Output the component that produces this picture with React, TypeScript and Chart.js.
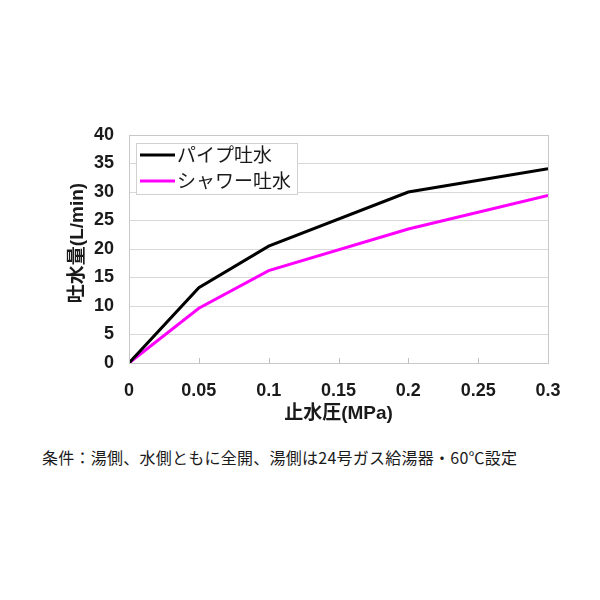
import React, { useEffect, useRef } from "react";
import { Chart, registerables } from "chart.js";

Chart.register(...registerables);

const pressures = [0, 0.05, 0.1, 0.2, 0.3];
const pipeFlow = [0, 13.2, 20.5, 30.0, 34.1];
const showerFlow = [0, 9.6, 16.2, 23.5, 29.4];
const xTickValues = [0, 0.05, 0.1, 0.15, 0.2, 0.25, 0.3];
const yTickValues = [0, 5, 10, 15, 20, 25, 30, 35, 40];
const seriesLabels = ["パイプ吐水", "シャワー吐水"];
const xTitle = "止水圧(MPa)";
const yTitle = "吐水量(L/min)";
const caption = "条件：湯側、水側ともに全開、湯側は24号ガス給湯器・60℃設定";

const JP = '"Noto Sans CJK JP", "Noto Sans", sans-serif';
const NUM = '"Liberation Sans", Arial, sans-serif';
const MIX = '"Liberation Sans", Arial, "Noto Sans CJK JP", sans-serif';

const framePlugin = {
  id: "frame",
  afterDatasetsDraw(chart: any) {
    const { ctx, chartArea } = chart;
    const { left, top, right, bottom } = chartArea;
    const xs = chart.scales.x;
    ctx.save();
    ctx.strokeStyle = "#bfbfbf";
    ctx.lineWidth = 1;
    xTickValues.forEach((v) => {
      const px = Math.round(xs.getPixelForValue(v)) + 0.5;
      ctx.beginPath();
      ctx.moveTo(px, bottom);
      ctx.lineTo(px, bottom - 5);
      ctx.stroke();
    });
    ctx.strokeStyle = "#c8c8c8";
    ctx.strokeRect(Math.round(left) + 0.5, Math.round(top) + 0.5, Math.round(right - left), Math.round(bottom - top));
    // legend
    const bx = left + 7;
    const by = top + 8;
    const bw = 161;
    const bh = 51;
    ctx.fillStyle = "#ffffff";
    ctx.fillRect(bx, by, bw, bh);
    ctx.strokeStyle = "#d0d0d0";
    ctx.strokeRect(Math.round(bx) + 0.5, Math.round(by) + 0.5, bw, bh);
    chart.data.datasets.forEach((ds: any, i: number) => {
      const cy = by + 12 + i * 26;
      ctx.strokeStyle = ds.borderColor;
      ctx.lineWidth = 3;
      ctx.beginPath();
      ctx.moveTo(bx + 4, cy);
      ctx.lineTo(bx + 39, cy);
      ctx.stroke();
      ctx.fillStyle = "#1a1a1a";
      ctx.font = `19px ${JP}`;
      ctx.textBaseline = "middle";
      ctx.textAlign = "left";
      ctx.fillText(ds.label, bx + 41, cy);
    });
    // y axis title
    ctx.translate(78, (top + bottom) / 2 - 6);
    ctx.rotate(-Math.PI / 2);
    ctx.fillStyle = "#1a1a1a";
    ctx.font = `bold 19px ${MIX}`;
    ctx.textAlign = "center";
    ctx.textBaseline = "middle";
    ctx.fillText(yTitle, 0, 0);
    ctx.restore();
  },
};

export default function App() {
  const canvasRef = useRef<HTMLCanvasElement | null>(null);

  useEffect(() => {
    const canvas = canvasRef.current;
    if (!canvas) return;
    const chart = new Chart(canvas, {
      type: "line",
      data: {
        datasets: [
          {
            label: seriesLabels[0],
            data: pressures.map((x, i) => ({ x, y: pipeFlow[i] })),
            borderColor: "#000000",
            backgroundColor: "#000000",
            borderWidth: 3,
            pointRadius: 0,
            tension: 0,
          },
          {
            label: seriesLabels[1],
            data: pressures.map((x, i) => ({ x, y: showerFlow[i] })),
            borderColor: "#ff00ff",
            backgroundColor: "#ff00ff",
            borderWidth: 3,
            pointRadius: 0,
            tension: 0,
          },
        ],
      },
      options: {
        animation: false,
        responsive: false,
        maintainAspectRatio: false,
        layout: { padding: { left: 0, top: 135, right: 52, bottom: 0 } },
        plugins: {
          legend: { display: false },
          tooltip: { enabled: false },
        },
        scales: {
          x: {
            type: "linear",
            min: 0,
            max: 0.3,
            afterBuildTicks: (scale: any) => {
              scale.ticks = xTickValues.map((value) => ({ value }));
            },
            afterFit: (scale: any) => {
              scale.height = 67;
            },
            grid: { display: false },
            border: { display: false },
            ticks: {
              padding: 9,
              color: "#1a1a1a",
              font: { family: NUM, size: 18, weight: "bold" },
              callback: (v: any) => String(Number(v.toFixed(2))),
            },
            title: {
              display: true,
              text: xTitle,
              color: "#1a1a1a",
              font: { family: MIX, size: 19, weight: "bold" },
              padding: { top: 0, bottom: 5 },
            },
          },
          y: {
            min: 0,
            max: 40,
            afterBuildTicks: (scale: any) => {
              scale.ticks = yTickValues.map((value) => ({ value }));
            },
            afterFit: (scale: any) => {
              scale.width = 129;
            },
            grid: { color: "#d9d9d9", drawTicks: false, lineWidth: 1 },
            border: { display: false },
            ticks: {
              padding: 15,
              color: "#1a1a1a",
              font: { family: NUM, size: 18, weight: "bold" },
            },
            title: { display: false },
          },
        },
      },
      plugins: [framePlugin],
    } as any);
    return () => chart.destroy();
  }, []);

  return (
    <div style={{ position: "absolute", left: 0, top: 0, width: 600, height: 600, background: "#fff" }}>
      <canvas ref={canvasRef} width={600} height={430} style={{ position: "absolute", left: 0, top: 0, width: 600, height: 430 }} />
      <div
        style={{
          position: "absolute",
          left: 42,
          top: 447,
          fontFamily: JP,
          fontSize: 16,
          color: "#1a1a1a",
          whiteSpace: "nowrap",
          lineHeight: "20px",
          letterSpacing: "0.25px",
        }}
      >
        {caption}
      </div>
    </div>
  );
}
